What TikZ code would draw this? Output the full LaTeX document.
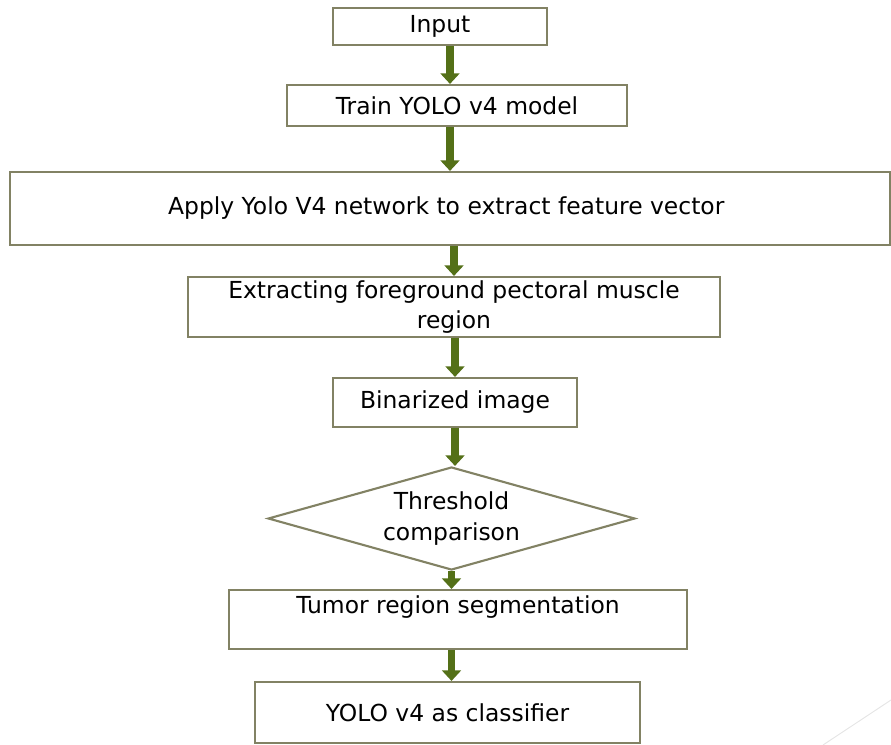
\documentclass[tikz,border=0pt]{standalone}
\usepackage{fontspec}
\setmainfont{DejaVu Sans}
\usetikzlibrary{shapes.geometric,arrows.meta}

\definecolor{boxline}{RGB}{130,130,100}
\definecolor{flowgreen}{RGB}{84,112,24}

\tikzset{
    stepbox/.style={shape=rectangle, draw=boxline, line width=1.8pt, fill=white, align=center, inner sep=0pt},
    decision/.style={shape=diamond, draw=boxline, line width=1.8pt, fill=white, align=center, inner sep=0pt, aspect=3.56},
    flow/.style={draw=flowgreen, line width=6.5pt, -{Triangle[width=16pt,length=9pt]}}
}

\begin{document}
\begin{tikzpicture}[font=\fontsize{20}{26}\selectfont]

    \useasboundingbox (0,0) rectangle (26.73,-22.35);

    \node[stepbox, minimum width=6.42cm, minimum height=1.11cm] (Input) at (13.2,-0.795) {Input};

    \node[stepbox, minimum width=10.2cm, minimum height=1.23cm] (Train) at (13.71,-3.165) {Train YOLO v4 model};

    \node[stepbox, minimum width=26.4cm, minimum height=2.19cm] (Apply) at (13.5,-6.255) {
        Apply Yolo V4 network to extract feature vector
    };

    \node[stepbox, minimum width=15.96cm, minimum height=1.8cm] (Extract) at (13.62,-9.21) {
        Extracting foreground pectoral muscle \\
        region
    };

    \node[stepbox, minimum width=7.32cm, minimum height=1.47cm] (Binar) at (13.65,-12.075) {Binarized image};

    \node[decision, minimum width=11.01cm, minimum height=3.09cm] (Thresh) at (13.545,-15.555) {
        Threshold \\
        comparison
    };

    \node[stepbox, minimum width=13.74cm, text height=0.69cm, text depth=1.08cm] (Tumor) at (13.74,-18.585) {Tumor region segmentation};

    \node[stepbox, minimum width=11.55cm, minimum height=1.83cm] (Classif) at (13.425,-21.375) {YOLO v4 as classifier};

    % faint slide decoration, bottom right
    \draw[gray!20, line width=0.8pt] (24.69,-22.35) -- (26.73,-21.0);

    \draw [flow] (Input.south -| Apply) -- (Train.north -| Apply);
    \draw [flow] (Train.south -| Apply) -- (Apply.north -| Apply);
    \draw [flow] (Apply.south -| Extract) -- (Extract.north -| Extract);
    \draw [flow] (Extract.south -| Binar) -- (Binar.north -| Binar);
    \draw [flow] (Binar.south -| Binar) -- (Thresh.north -| Binar);
    \draw [flow] (Thresh.south -| Thresh) -- (Tumor.north -| Thresh);
    \draw [flow] (Tumor.south -| Thresh) -- (Classif.north -| Thresh);

\end{tikzpicture}
\end{document}
